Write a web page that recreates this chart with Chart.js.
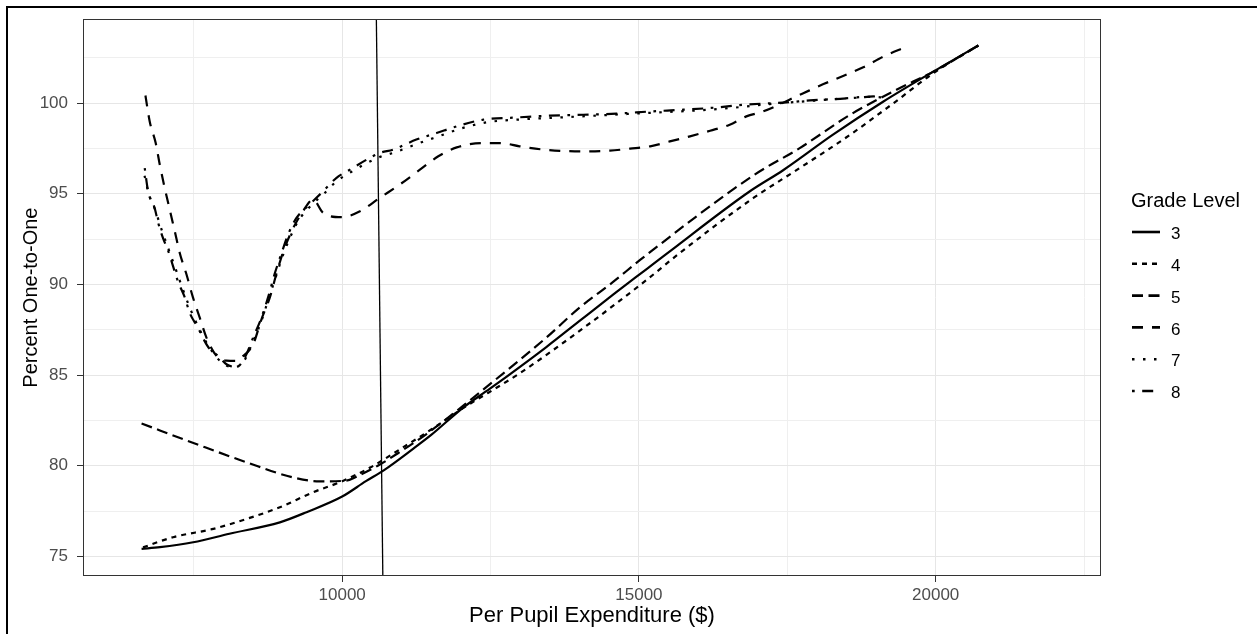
<!DOCTYPE html>
<html><head><meta charset="utf-8">
<script src="https://cdn.jsdelivr.net/npm/chart.js@4.4.0/dist/chart.umd.min.js"></script>
<style>html,body{margin:0;padding:0;background:#fff;}canvas{display:block;}</style>
</head><body>
<canvas id="c" width="1257" height="634"></canvas>
<script>
// ---- data ----
const gradeLabels = ['3', '4', '5', '6', '7', '8'];

const x3 = [6620, 6930, 7490, 8100, 8950, 9400, 10000, 10400, 10700, 11200, 11500, 12040, 12490, 13440, 14000, 14570, 15130, 15470, 16870, 17430, 18270, 19120, 19960, 20720];
const y3 = [75.42, 75.51, 75.78, 76.25, 76.88, 77.44, 78.3, 79.15, 79.75, 80.95, 81.7, 83.21, 84.25, 86.55, 87.99, 89.45, 90.85, 91.7, 95.14, 96.3, 98.26, 100.09, 101.74, 103.18];

const x4 = [6645, 7150, 7830, 8390, 8950, 9510, 9960, 10470, 10970, 11500, 12000, 12990, 14000, 15130, 15690, 16930, 17710, 18560, 19290, 19960, 20720];
const y4 = [75.5, 76.06, 76.52, 77.07, 77.71, 78.54, 79.09, 79.9, 80.9, 82.0, 83.1, 85.1, 87.44, 90.25, 91.74, 94.77, 96.42, 98.26, 100.0, 101.65, 103.18];

const x5 = [6620, 7540, 8390, 9170, 9620, 10070, 10240, 10600, 10920, 11420, 12490, 13440, 14000, 14570, 15020, 16950, 17710, 18560, 19340, 19960, 20720];
const y5 = [82.33, 81.2, 80.19, 79.36, 79.14, 79.18, 79.4, 80.0, 80.65, 81.75, 84.5, 87.07, 88.72, 90.15, 91.35, 96.06, 97.52, 99.36, 100.74, 101.74, 103.18];

const x6 = [6685, 6757, 6858, 6930, 7010, 7094, 7179, 7263, 7376, 7487, 7600, 7713, 7881, 8050, 8220, 8300, 8500, 8640, 8780, 8890, 9000, 9150, 9340, 9510, 9680, 9990, 10300, 10630, 10970, 11310, 11620, 11930, 12380, 12660, 12990, 13390, 14060, 14510, 14850, 15190, 15520, 15860, 16200, 16530, 16810, 17090, 17770, 18110, 18440, 18780, 19120, 19500];
const y6 = [100.42, 98.99, 97.8, 96.55, 95.32, 94.13, 92.94, 91.74, 90.56, 89.27, 88.17, 87.07, 86.06, 85.8, 85.78, 85.97, 86.7, 88.08, 89.27, 90.56, 91.74, 92.94, 94.04, 94.68, 93.95, 93.71, 94.04, 94.77, 95.51, 96.33, 97.07, 97.56, 97.8, 97.8, 97.62, 97.44, 97.34, 97.38, 97.49, 97.62, 97.89, 98.17, 98.48, 98.81, 99.27, 99.54, 100.55, 101.05, 101.5, 101.98, 102.57, 103.1];

const x7 = [6670, 6740, 6850, 6960, 7080, 7200, 7330, 7460, 7600, 7730, 7880, 8030, 8200, 8350, 8490, 8630, 8750, 8870, 8990, 9110, 9260, 9460, 9690, 9910, 10150, 10420, 10650, 10900, 11300, 11650, 12000, 12450, 13000, 13600, 14200, 14800, 15400, 16000, 16600, 17200, 17800, 18400, 18900, 19150];
const y7 = [96.0, 95.0, 94.1, 93.0, 91.9, 90.8, 89.6, 88.5, 87.5, 86.7, 86.0, 85.55, 85.45, 85.8, 86.8, 87.9, 89.1, 90.3, 91.5, 92.5, 93.5, 94.3, 95.0, 95.7, 96.2, 96.7, 97.05, 97.3, 97.8, 98.2, 98.6, 98.95, 99.1, 99.2, 99.3, 99.4, 99.5, 99.6, 99.75, 99.95, 100.1, 100.25, 100.35, 100.3];

const x8 = [6673, 6730, 6840, 6900, 6980, 7070, 7150, 7230, 7350, 7430, 7570, 7680, 7770, 7910, 8050, 8220, 8360, 8500, 8640, 8750, 8860, 8980, 9090, 9230, 9450, 9680, 9900, 10130, 10410, 10630, 10860, 11250, 11590, 11930, 12380, 12940, 13500, 14060, 14620, 15190, 15750, 16310, 16760, 17490, 17880, 18390, 18720, 18950, 19090];
const y8 = [96.42, 95.14, 94.22, 93.4, 92.57, 91.84, 91.01, 90.19, 89.27, 88.44, 87.62, 86.89, 86.43, 86.06, 85.6, 85.45, 85.97, 87.07, 88.17, 89.27, 90.56, 91.74, 92.76, 93.67, 94.41, 95.14, 95.87, 96.33, 96.88, 97.25, 97.44, 97.99, 98.35, 98.72, 99.09, 99.21, 99.31, 99.36, 99.42, 99.54, 99.64, 99.76, 99.91, 100.04, 100.15, 100.24, 100.31, 100.37, 100.31];

// vertical reference line (x at top, x at bottom of the panel)
const refX = [10576, 10685];
const refY = [104.63, 73.92];

// axes
const xRange = [5633, 22786];
const yRange = [73.92, 104.63];
const xTicks = [7500, 10000, 12500, 15000, 17500, 20000, 22500];
const xMajor = [10000, 15000, 20000];
const yTicks = [75, 77.5, 80, 82.5, 85, 87.5, 90, 92.5, 95, 97.5, 100, 102.5];
const yMajor = [75, 80, 85, 90, 95, 100];

// ---- styles ----
const dashStyles = {
  '3': [],
  '4': [5, 5],
  '5': [11, 5.5],
  '6': [11, 9],
  '7': [2.5, 8.5],
  '8': [2.7, 7.5, 11, 7.5]
};
const FONT = '"Liberation Sans", Arial, sans-serif';

const seriesX = [x3, x4, x5, x6, x7, x8];
const seriesY = [y3, y4, y5, y6, y7, y8];
const toPts = (xs, ys) => xs.map((x, i) => ({x: x, y: ys[i]}));

const datasets = gradeLabels.map((g, i) => ({
  label: g,
  data: toPts(seriesX[i], seriesY[i]),
  borderColor: '#000',
  borderWidth: 2.2,
  borderDash: dashStyles[g],
  borderCapStyle: 'butt',
  borderJoinStyle: 'round',
  pointRadius: 0,
  pointHoverRadius: 0,
  fill: false,
  cubicInterpolationMode: 'monotone'
}));
datasets.push({
  label: '_ref',
  data: toPts(refX, refY),
  borderColor: '#000',
  borderWidth: 1.3,
  pointRadius: 0,
  fill: false,
  tension: 0
});

const framePlugin = {
  id: 'frame',
  beforeDraw(chart) {
    const c = chart.ctx;
    c.save();
    c.fillStyle = '#fff';
    c.fillRect(0, 0, chart.width, chart.height);
    c.strokeStyle = '#000';
    c.lineWidth = 2;
    c.beginPath();
    c.moveTo(7, chart.height);
    c.lineTo(7, 7);
    c.lineTo(chart.width, 7);
    c.stroke();
    c.restore();
  },
  afterDatasetsDraw(chart) {
    const a = chart.chartArea, c = chart.ctx;
    c.save();
    c.strokeStyle = '#333333';
    c.lineWidth = 1;
    c.strokeRect(Math.round(a.left) + 0.5, Math.round(a.top) + 0.5, Math.round(a.right - a.left) - 1, Math.round(a.bottom - a.top) - 1);
    c.restore();
  },
  afterDraw(chart) {
    const c = chart.ctx;
    c.save();
    c.fillStyle = '#000';
    c.textAlign = 'left';
    c.textBaseline = 'middle';
    c.font = '20px ' + FONT;
    c.fillText('Grade Level', 1131, 201);
    c.font = '17px ' + FONT;
    const y0 = 232, step = 31.8;
    chart.data.datasets.forEach((ds, i) => {
      if (ds.label.startsWith('_')) return;
      const y = y0 + i * step;
      c.save();
      c.strokeStyle = ds.borderColor;
      c.lineWidth = 2.6;
      c.lineCap = 'butt';
      c.setLineDash(ds.borderDash || []);
      c.beginPath();
      c.moveTo(1132, y);
      c.lineTo(1160, y);
      c.stroke();
      c.restore();
      c.fillText(ds.label, 1171, y + 2.5);
    });
    c.restore();
  }
};

new Chart(document.getElementById('c'), {
  type: 'line',
  data: {datasets: datasets},
  plugins: [framePlugin],
  options: {
    responsive: false,
    animation: false,
    events: [],
    layout: {padding: {top: 18, right: 156, left: 0, bottom: 0}},
    plugins: {legend: {display: false}, tooltip: {enabled: false}},
    scales: {
      x: {
        type: 'linear',
        min: xRange[0], max: xRange[1],
        afterBuildTicks: s => { s.ticks = xTicks.map(v => ({value: v})); },
        afterFit: s => { s.height = 58; },
        border: {display: false},
        grid: {
          color: c => xMajor.includes(c.tick && c.tick.value) ? '#E6E6E6' : '#EFEFEF',
          lineWidth: 1,
          tickLength: 6,
          tickWidth: 1,
          tickColor: c => xMajor.includes(c.tick && c.tick.value) ? '#333333' : 'rgba(0,0,0,0)'
        },
        ticks: {
          autoSkip: false, maxRotation: 0, minRotation: 0, padding: 3,
          color: '#4D4D4D', font: {family: FONT, size: 17},
          callback: v => xMajor.includes(v) ? String(v) : ''
        },
        title: {display: true, text: 'Per Pupil Expenditure ($)', color: '#000',
          font: {family: FONT, size: 22, lineHeight: 1.2}, padding: {top: 0, bottom: 5}}
      },
      y: {
        type: 'linear',
        min: yRange[0], max: yRange[1],
        afterBuildTicks: s => { s.ticks = yTicks.map(v => ({value: v})); },
        afterFit: s => { s.width = 83; },
        border: {display: false},
        grid: {
          color: c => yMajor.includes(c.tick && c.tick.value) ? '#E6E6E6' : '#EFEFEF',
          lineWidth: 1,
          tickLength: 6,
          tickWidth: 1,
          tickColor: c => yMajor.includes(c.tick && c.tick.value) ? '#333333' : 'rgba(0,0,0,0)'
        },
        ticks: {
          autoSkip: false, padding: 9,
          color: '#4D4D4D', font: {family: FONT, size: 17},
          callback: v => yMajor.includes(v) ? String(v) : ''
        },
        title: {display: true, text: 'Percent One-to-One', color: '#000',
          font: {family: FONT, size: 20, lineHeight: 1.2}, padding: {top: 19, bottom: 0}}
      }
    }
  }
});
</script>
</body></html>
